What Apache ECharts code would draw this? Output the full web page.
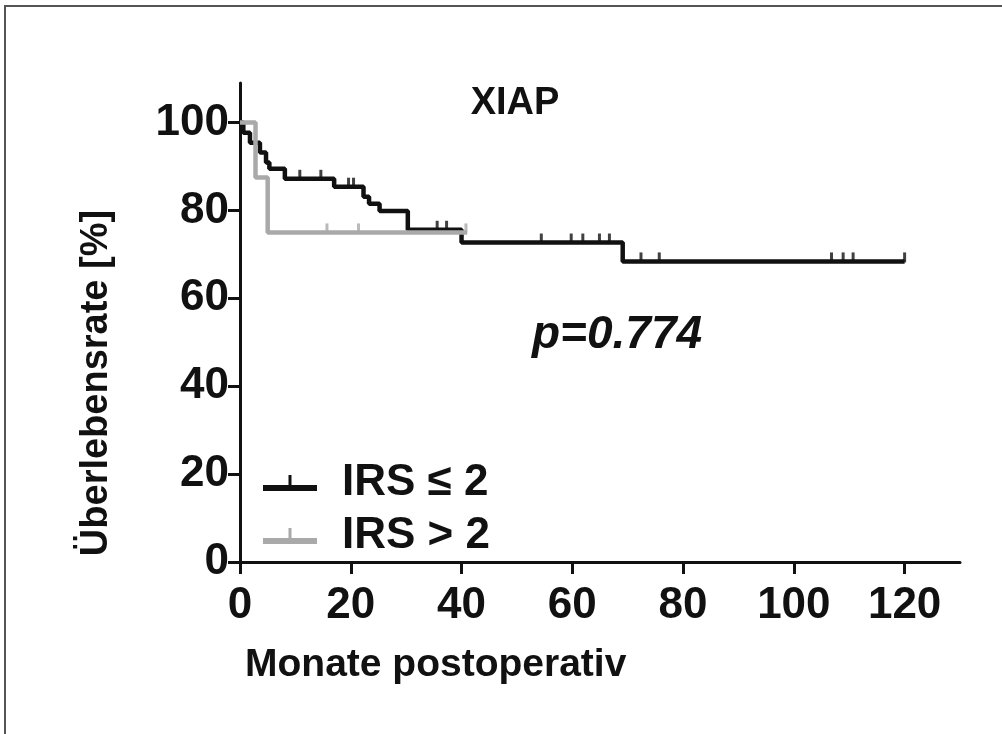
<!DOCTYPE html>
<html>
<head>
<meta charset="utf-8">
<script src="https://cdn.jsdelivr.net/npm/echarts@6/dist/echarts.min.js"></script>
<style>
html, body { margin: 0; background: #fff; overflow: hidden; width: 1002px; height: 734px; }
#frame { position: absolute; left: 4px; top: 5px; width: 1100px; height: 800px; border-left: 2px solid #555; border-top: 2px solid #555; }
#chart { position: absolute; left: 0; top: 0; width: 1002px; height: 734px; }
</style>
</head>
<body>
<div id="frame"></div>
<div id="chart"></div>
<script>
// Kaplan-Meier Stufen (Monat, Überlebensrate %)
var lowTime = [0, 0.6, 1.8, 3.6, 4.7, 5.3, 8.1, 17.0, 22.3, 23.3, 25.2, 30.3, 40.0, 69.1, 120];
var lowSurv = [100, 97.7, 95.4, 93.2, 90.9, 89.5, 87.2, 85.4, 83.1, 81.5, 79.9, 75.6, 72.7, 68.4, 68.4];
var lowCensTime = [10.8, 14.6, 19.6, 20.5, 35.6, 37.3, 54.4, 59.8, 61.9, 64.9, 66.7, 72.4, 75.7, 106.8, 108.9, 110.7, 120];
var lowCensSurv = [87.2, 87.2, 85.4, 85.4, 75.6, 75.6, 72.7, 72.7, 72.7, 72.7, 72.7, 68.4, 68.4, 68.4, 68.4, 68.4, 68.4];

var highTime = [0, 2.8, 5.0, 41.0];
var highSurv = [100, 87.5, 75, 75];
var highCensTime = [15.7, 21.4, 40.8];
var highCensSurv = [75, 75, 75];

var xTicks = [0, 20, 40, 60, 80, 100, 120];
var yTicks = [0, 20, 40, 60, 80, 100];

var nameLow = 'IRS \u2264 2';
var nameHigh = 'IRS > 2';

function pairs(a, b) {
	var out = [];
	for (var i = 0; i < a.length; i++) {
		out.push([a[i], b[i]]);
	}
	return out;
}

var font = 'Liberation Sans, Arial, sans-serif';
var legendIcon = 'path://M0,10h54v6h-54z M25.5,0h3v10h-3z';
var myChart = echarts.init(document.getElementById('chart'));

myChart.setOption({
	animation: false,
	title: {
		text: 'XIAP',
		left: 510,
		top: 80,
		textAlign: 'center',
		textStyle: { fontFamily: font, fontWeight: 'bold', fontSize: 38, color: '#111' }
	},
	grid: { left: 240, right: 42, top: 83, bottom: 172 },
	legend: {
		orient: 'vertical',
		left: 258,
		top: 456,
		itemWidth: 54,
		itemHeight: 16,
		itemGap: 9,
		data: [
			{ name: nameLow, icon: legendIcon },
			{ name: nameHigh, icon: legendIcon }
		],
		textStyle: { fontFamily: font, fontWeight: 'bold', fontSize: 44, color: '#111', padding: [0, 0, 0, 20] }
	},
	xAxis: {
		type: 'value',
		min: 0,
		max: 130,
		interval: 20,
		splitLine: { show: false },
		axisLine: { lineStyle: { color: '#111', width: 3 } },
		axisTick: { length: 12, lineStyle: { color: '#111', width: 3 }, customValues: xTicks },
		axisLabel: { margin: 22, fontFamily: font, fontWeight: 'bold', fontSize: 44, color: '#111', customValues: xTicks }
	},
	yAxis: {
		type: 'value',
		min: 0,
		max: 109,
		interval: 20,
		splitLine: { show: false },
		axisLine: { show: true, lineStyle: { color: '#111', width: 3 } },
		axisTick: { show: true, length: 12, lineStyle: { color: '#111', width: 3 }, customValues: yTicks },
		axisLabel: { margin: 11, padding: [7, 0, 0, 0], fontFamily: font, fontWeight: 'bold', fontSize: 44, color: '#111', customValues: yTicks }
	},
	graphic: [
		{
			type: 'text',
			left: 532,
			top: 312,
			style: { text: 'p=0.774', fontFamily: font, fontWeight: 'bold', fontStyle: 'italic', fontSize: 46, fill: '#111' }
		},
		{
			type: 'text',
			left: 245,
			top: 646,
			style: { text: 'Monate postoperativ', fontFamily: font, fontWeight: 'bold', fontSize: 39, fill: '#111' }
		},
		{
			type: 'text',
			x: 97,
			y: 383,
			rotation: Math.PI / 2,
			style: { text: '\u00dcberlebensrate [%]', fontFamily: font, fontWeight: 'bold', fontSize: 38, fill: '#111', align: 'center', verticalAlign: 'middle' }
		}
	],
	series: [
		{
			name: nameLow,
			type: 'line',
			step: 'end',
			symbol: 'none',
			color: '#111',
			lineStyle: { color: '#111', width: 4.5 },
			data: pairs(lowTime, lowSurv)
		},
		{
			name: nameLow,
			type: 'scatter',
			symbol: 'rect',
			symbolSize: [3, 10],
			symbolOffset: [0, -4],
			itemStyle: { color: '#111' },
			data: pairs(lowCensTime, lowCensSurv)
		},
		{
			name: nameHigh,
			type: 'line',
			step: 'end',
			symbol: 'none',
			color: '#a9a9a9',
			lineStyle: { color: '#a9a9a9', width: 4.5 },
			data: pairs(highTime, highSurv)
		},
		{
			name: nameHigh,
			type: 'scatter',
			symbol: 'rect',
			symbolSize: [3, 10],
			symbolOffset: [0, -4],
			itemStyle: { color: '#a9a9a9' },
			data: pairs(highCensTime, highCensSurv)
		}
	]
});
</script>
</body>
</html>
